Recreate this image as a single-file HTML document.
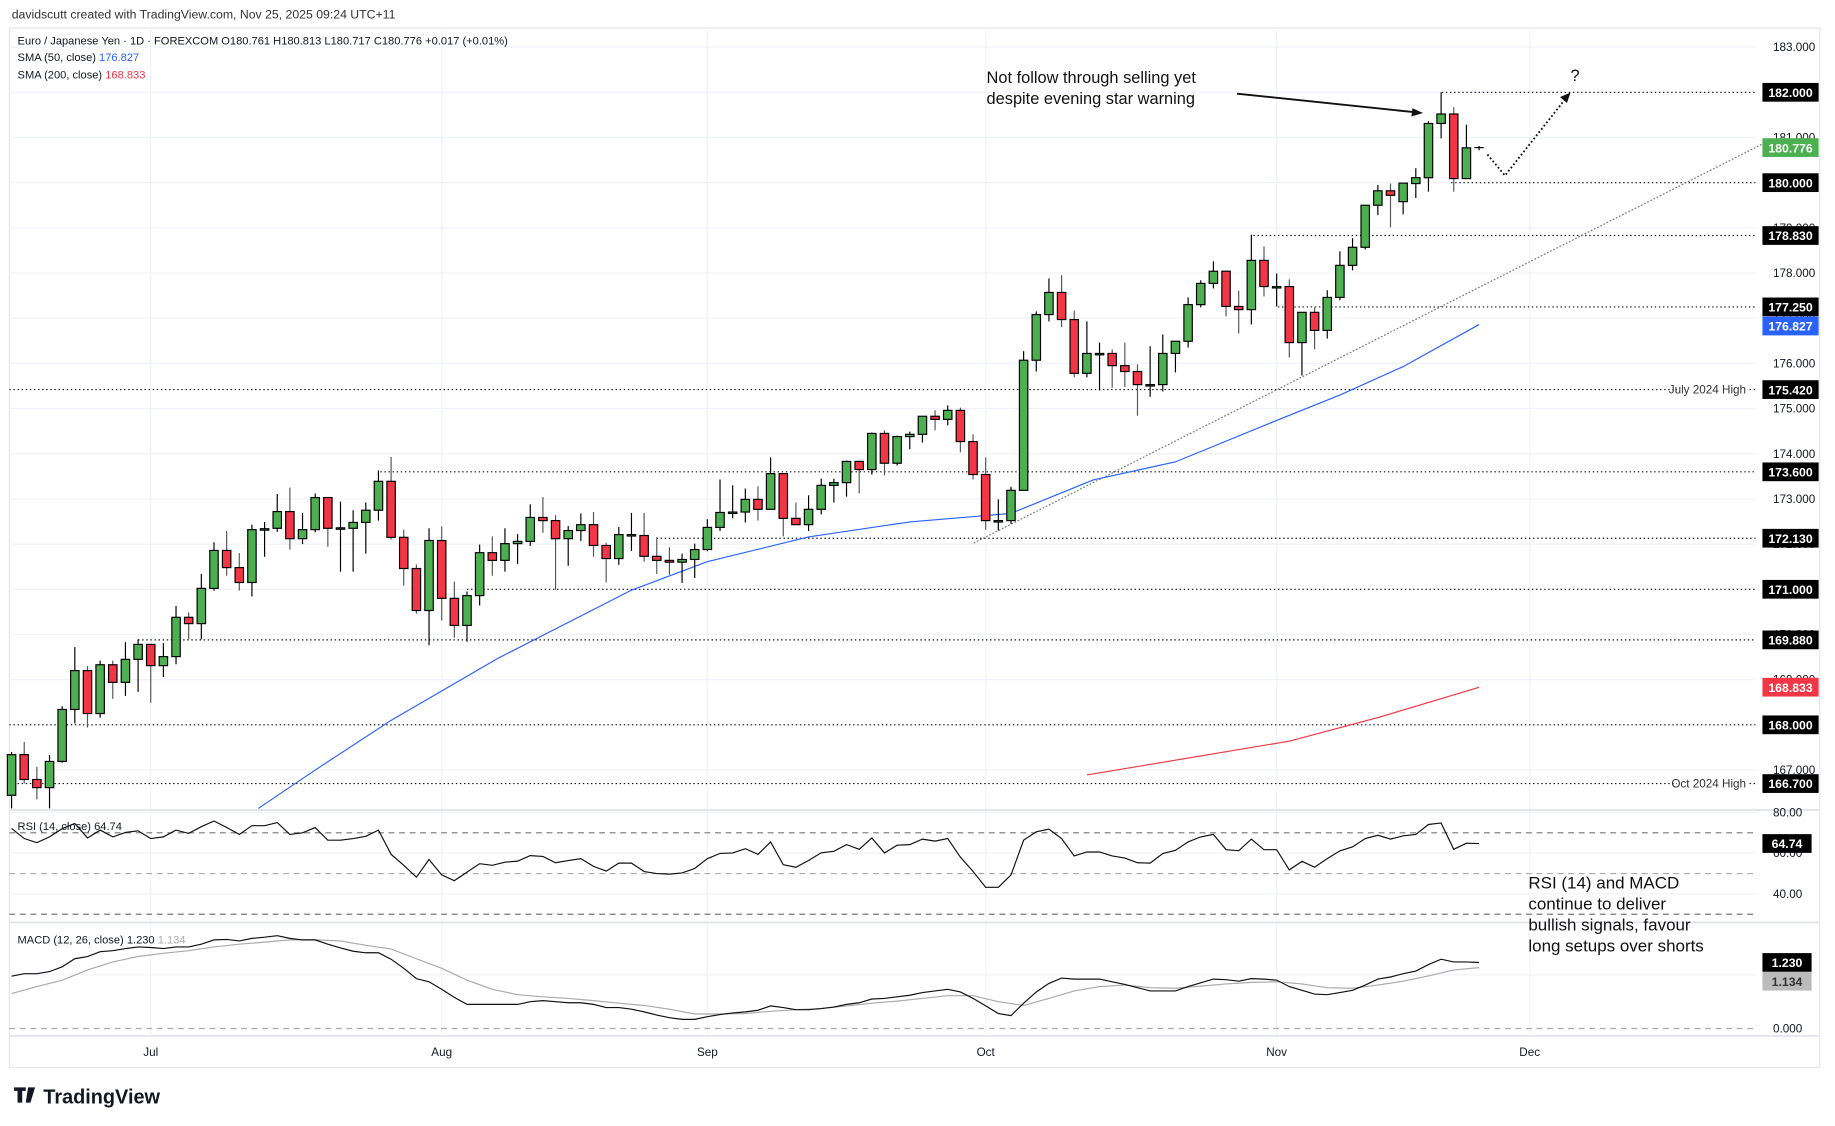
<!DOCTYPE html>
<html><head><meta charset="utf-8"><style>
html,body{margin:0;padding:0;background:#fff;}
svg{display:block;font-family:"Liberation Sans",sans-serif;}
</style></head><body>
<svg id="chart" width="1835" height="1126" viewBox="0 0 1568 962" preserveAspectRatio="none" xmlns="http://www.w3.org/2000/svg">
<rect x="0" y="0" width="1568" height="962" fill="#fff"/>
<text x="10" y="16" font-size="10.5" fill="#333">davidscutt created with TradingView.com, Nov 25, 2025 09:24 UTC+11</text>
<rect x="8" y="24" width="1547" height="888" fill="none" stroke="#e6e6e6"/>
<g id="grid"></g>
<g id="levels"></g>
<g id="smas"></g>
<g id="candles"></g>
<g id="rsi"></g>
<g id="macd"></g>
<g id="axes"></g>
<text x="15" y="38" font-size="9.5" fill="#131722">Euro / Japanese Yen · 1D · FOREXCOM  O180.761  H180.813  L180.717  C180.776  +0.017 (+0.01%)</text>
<text x="15" y="52" font-size="9.5" fill="#131722">SMA (50, close) <tspan fill="#2962ff">176.827</tspan></text>
<text x="15" y="67" font-size="9.5" fill="#131722">SMA (200, close) <tspan fill="#f23645">168.833</tspan></text>
<text x="15" y="709" font-size="9.5" fill="#131722">RSI (14, close)  64.74</text>
<text x="15" y="806" font-size="9.5" fill="#131722">MACD (12, 26, close)  1.230  <tspan fill="#aaa">1.134</tspan></text>
<g>
<text x="843" y="71" font-size="14" fill="#111">Not follow through selling yet</text>
<text x="843" y="89" font-size="14" fill="#111">despite evening star warning</text>
<line x1="1057" y1="80" x2="1210" y2="96" stroke="#111" stroke-width="1.6"/>
<polygon points="1216,96.5 1207,92.5 1206,99.5" fill="#111"/>
</g>
<g>
<polyline points="1271,132 1286,150 1338,84" fill="none" stroke="#111" stroke-width="1.6" stroke-dasharray="1.5 2"/>
<polygon points="1342,79 1333,83 1339,88" fill="#111"/>
<text x="1342" y="69" font-size="14" fill="#111">?</text>
</g>
<g font-size="14.5" fill="#111">
<text x="1306" y="759">RSI (14) and MACD</text>
<text x="1306" y="777">continue to deliver</text>
<text x="1306" y="795">bullish signals, favour</text>
<text x="1306" y="813">long setups over shorts</text>
</g>
<g>
<path d="M12 929h10v3h-3v10h-4v-10h-3z M24 929h6l-4 13h-4z" fill="#131722"/>
<text x="37" y="943" font-size="17" font-weight="bold" fill="#131722">TradingView</text>
</g>
</svg>
<script>
var NS="http://www.w3.org/2000/svg";
// ---- data ----
var opens=[166.44,167.34,166.79,166.61,167.19,168.34,169.2,168.25,169.33,168.94,169.45,169.78,169.31,169.51,170.38,170.24,171.02,171.86,171.48,171.15,172.34,172.35,172.72,172.12,172.32,173.03,172.35,172.35,172.48,172.75,173.39,172.15,171.46,170.53,172.08,170.8,170.2,170.86,171.81,171.64,172.01,172.06,172.59,172.52,172.12,172.3,172.43,171.97,171.68,172.21,172.19,171.73,171.64,171.6,171.66,171.88,172.37,172.7,172.71,172.99,172.77,173.56,172.57,172.43,172.77,173.3,173.36,173.83,173.65,174.45,173.79,174.38,174.43,174.83,174.76,174.96,174.27,173.54,172.52,172.52,173.19,176.07,177.08,177.57,176.97,175.78,176.22,176.22,175.95,175.82,175.53,175.53,176.22,176.49,177.3,177.77,178.04,177.26,177.19,178.28,177.7,177.7,176.46,177.13,176.73,177.46,178.17,178.57,179.5,179.82,179.58,179.98,180.11,181.31,181.52,180.09,180.761];
var highs=[167.4,167.62,167.07,167.33,168.41,169.72,169.3,169.42,169.42,169.83,169.89,169.78,169.81,170.63,170.49,171.34,172.04,172.29,171.8,172.43,172.49,173.11,173.25,172.69,173.12,173.03,172.94,172.75,172.92,173.63,173.93,172.32,171.55,172.35,172.39,171.17,170.95,171.99,172.17,172.35,172.22,172.88,173.04,172.64,172.4,172.68,172.71,172.03,172.38,172.69,172.69,172.15,171.93,171.79,172.01,172.55,173.43,173.3,173.23,173.28,173.92,173.56,172.92,173.08,173.45,173.45,173.85,173.85,174.47,174.52,174.4,174.49,174.83,174.96,175.07,175.02,174.43,173.92,172.99,173.27,176.27,177.15,177.88,177.95,177.17,176.93,176.46,176.31,176.46,175.98,176.38,176.64,176.49,177.46,177.84,178.26,178.04,177.61,178.85,178.59,177.99,177.86,177.13,177.24,177.62,178.48,178.77,179.5,179.95,179.98,179.99,180.32,181.36,182.0,181.67,181.28,180.813];
var lows=[166.15,166.7,166.35,166.15,167.16,168.03,167.94,168.16,168.575,168.64,168.73,168.49,169.06,169.34,169.89,169.89,170.97,171.3,170.97,170.84,171.72,172.27,171.88,172.0,172.26,171.94,171.39,171.39,171.79,172.52,172.1,171.08,170.46,169.76,170.31,169.93,169.84,170.64,171.3,171.39,171.56,171.96,172.25,170.99,171.52,172.07,171.72,171.15,171.54,171.85,171.61,171.34,171.32,171.14,171.25,171.84,172.29,172.57,172.48,172.52,172.77,172.17,172.43,172.29,172.66,172.92,173.05,173.12,173.54,173.52,173.74,174.1,174.25,174.52,174.63,174.03,173.43,172.32,172.3,172.45,173.19,175.82,176.93,176.8,175.69,175.69,175.4,175.46,175.48,174.84,175.26,175.38,175.8,176.35,177.24,177.66,177.04,176.66,176.86,177.48,177.26,176.13,175.73,176.31,176.55,177.4,178.06,178.52,179.28,179.01,179.3,179.66,179.8,180.98,179.8,180.09,180.717];
var closes=[167.34,166.79,166.61,167.19,168.34,169.2,168.25,169.33,168.94,169.45,169.78,169.31,169.51,170.38,170.24,171.02,171.86,171.48,171.15,172.32,172.34,172.72,172.12,172.32,173.03,172.35,172.36,172.48,172.75,173.39,172.15,171.46,170.53,172.08,170.8,170.2,170.86,171.81,171.64,172.01,172.06,172.59,172.52,172.12,172.3,172.43,171.97,171.68,172.21,172.21,171.73,171.64,171.6,171.66,171.88,172.37,172.7,172.71,172.99,172.77,173.56,172.57,172.43,172.77,173.3,173.36,173.83,173.65,174.45,173.79,174.38,174.43,174.83,174.76,174.96,174.27,173.54,172.52,172.52,173.19,176.07,177.08,177.57,176.97,175.78,176.22,176.22,175.95,175.82,175.53,175.53,176.22,176.49,177.3,177.77,178.04,177.26,177.19,178.28,177.7,177.7,176.46,177.13,176.73,177.46,178.17,178.57,179.5,179.82,179.72,179.99,180.11,181.31,181.52,180.09,180.77,180.776];
var sma50Idx=[19.5,24,30,38.5,49,55,63,71,77,79,85.5,92,101,105,110,116];
var sma50Val=[166.15,167.0,168.1,169.48,170.98,171.61,172.16,172.49,172.63,172.68,173.42,173.82,174.85,175.3,175.93,176.86];
var sma200Idx=[85,101,108,116];
var sma200Val=[166.89,167.64,168.16,168.83];
var rsiVals=[72.1,67.2,65.2,68,72,74.6,67.5,71.3,68,70.2,71,67.2,68,71.3,69.7,73,75.8,72.6,69.2,73.5,73.5,75,69.2,70,72.6,66.4,66.4,67.2,68.3,71.3,59.4,54,48.2,56.9,49.3,46.5,50.7,54.8,54,55.6,56.1,58.8,58.4,55.3,56.4,57.3,53.5,51.2,55.1,55.1,51,50,49.7,50.3,52.5,57.3,59.9,60.1,62.2,59.4,65.5,54.3,53.1,56.4,60.2,60.9,64.2,61.9,67.5,60.1,63.9,64.2,66.9,65.9,67.2,58.1,51,43.2,43.2,49.3,66.4,70.5,71.8,67.2,58.6,60.6,60.6,58.6,57.6,55.3,55.1,59.8,61.4,65.5,68,69.2,61.7,61.2,66.9,61.7,61.7,51.8,56,53.1,57.3,61.1,63.1,67.2,68.8,66.9,68.5,69.2,74.1,74.8,61.9,64.9,64.74];
var macdVals=[0.975,1.02,1.02,1.06,1.15,1.3,1.34,1.43,1.45,1.49,1.52,1.51,1.49,1.52,1.52,1.57,1.65,1.66,1.63,1.68,1.7,1.73,1.68,1.65,1.65,1.57,1.5,1.44,1.41,1.41,1.29,1.12,0.93,0.87,0.73,0.58,0.45,0.45,0.45,0.45,0.45,0.5,0.52,0.5,0.48,0.48,0.45,0.39,0.39,0.36,0.31,0.25,0.2,0.17,0.17,0.22,0.26,0.29,0.31,0.34,0.42,0.39,0.35,0.35,0.37,0.4,0.45,0.48,0.55,0.56,0.59,0.62,0.67,0.7,0.73,0.68,0.56,0.42,0.28,0.24,0.47,0.68,0.84,0.94,0.92,0.92,0.92,0.87,0.82,0.76,0.7,0.7,0.7,0.78,0.85,0.92,0.91,0.88,0.93,0.92,0.9,0.78,0.71,0.64,0.63,0.67,0.71,0.81,0.92,0.96,1.02,1.07,1.19,1.29,1.24,1.24,1.23];
var signalIdx=[0,2,4,6,8,10,12,14,16,18,20,22,24,26,28,30,32,34,36,38,40,42,44,46,48,50,52,54,56,58,60,62,64,66,68,70,72,74,76,78,80,82,84,86,88,90,92,94,96,98,100,102,104,106,108,110,112,114,116];
var signalVals=[0.65,0.78,0.9,1.09,1.24,1.34,1.4,1.45,1.52,1.57,1.61,1.65,1.65,1.63,1.55,1.48,1.3,1.12,0.9,0.73,0.63,0.59,0.56,0.52,0.47,0.43,0.36,0.27,0.27,0.28,0.32,0.35,0.37,0.42,0.47,0.51,0.56,0.61,0.61,0.5,0.43,0.56,0.7,0.78,0.81,0.76,0.75,0.79,0.83,0.86,0.87,0.83,0.76,0.75,0.81,0.88,0.98,1.09,1.134];
var priceTicks=[183,181,179,178,177,176,175,174,173,172,171,170,169,167];
var levelVals=[182,180,178.83,177.25,175.42,173.6,172.13,171,169.88,168,166.7];
var levelStart=[1232,1240,1071,1092,8,325,561,399,118,8,8];
var levelNotes=["","","","","July 2024 High","","","","","","Oct 2024 High"];
var monthLabels=["Jul","Aug","Sep","Oct","Nov","Dec"];
var monthIdx=[11,34,55,77,100,120];
// ---- scales ----
function X(i){return 128.8+(i-11)*10.81;}
function Y(p){return 376+(174.302-p)*38.6;}
function RY(v){return 711.5+(70-v)*1.74;}
function MY(v){return 878.7-v*45.86;}
function mk(tag,attrs,parent){var e=document.createElementNS(NS,tag);for(var k in attrs)e.setAttribute(k,attrs[k]);parent.appendChild(e);return e;}
var grid=document.getElementById('grid'),levels=document.getElementById('levels'),smas=document.getElementById('smas'),cg=document.getElementById('candles'),rg=document.getElementById('rsi'),mg=document.getElementById('macd'),ax=document.getElementById('axes');
for(var p=167;p<=183;p++){var gl=mk('line',{x1:8,x2:1500,y1:Y(p),y2:Y(p),stroke:'#f0f3fa'},grid);

}
[80,60,40].forEach(function(v){var l=mk('line',{x1:8,x2:1500,y1:RY(v),y2:RY(v),stroke:'#f0f3fa'},grid);

});
mk('line',{x1:8,x2:1500,y1:MY(1),y2:MY(1),stroke:'#f0f3fa'},grid);
monthIdx.forEach(function(i,k){var l=mk('line',{x1:X(i),x2:X(i),y1:24,y2:885,stroke:'#f0f3fa'},grid);


var t=mk('text',{x:X(i),y:902,'font-size':10,'text-anchor':'middle',fill:'#131722'},ax);t.textContent=monthLabels[k];

});
[692,788,885].forEach(function(y){mk('line',{x1:8,x2:1555,y1:y,y2:y,stroke:'#e0e3eb','stroke-width':1.5},grid);});
[70,50,30].forEach(function(v){mk('line',{x1:8,x2:1500,y1:RY(v),y2:RY(v),stroke:v==50?'#aaa':'#777','stroke-dasharray':'5 4'},grid);});
mk('line',{x1:8,x2:1500,y1:MY(0),y2:MY(0),stroke:'#aaa','stroke-dasharray':'5 4'},grid);
priceTicks.forEach(function(p){var t=mk('text',{x:1515,y:Y(p)+3.5,'font-size':10,fill:'#131722'},ax);t.textContent=p.toFixed(3);

});
levelVals.forEach(function(v,k){var y=Y(v);var note=levelNotes[k];var endX=note?1433:1500;
var l=mk('line',{x1:levelStart[k],x2:endX,y1:y,y2:y,stroke:'#111','stroke-dasharray':'1.2 2.3'},levels);


if(note){mk('line',{x1:1495,x2:1500,y1:y,y2:y,stroke:'#111','stroke-dasharray':'1.2 2.3'},levels);var n=mk('text',{x:1492,y:y+3.5,'font-size':10,'text-anchor':'end',fill:'#333'},levels);n.textContent=note;

}
var b=mk('rect',{x:1506,y:y-8,width:48,height:16,fill:'#000'},ax);


var t=mk('text',{x:1530,y:y+4,'font-size':10.5,'font-weight':'bold','text-anchor':'middle',fill:'#fff'},ax);t.textContent=v.toFixed(3);});
var tl=mk('line',{x1:832,y1:464,x2:1510,y2:121,stroke:'#777','stroke-dasharray':'1.5 1.5'},levels);


function poly(idx,vals,fy,col,w,parent,name){var pts=idx.map(function(i,k){return X(i).toFixed(1)+','+fy(vals[k]).toFixed(1);}).join(' ');var e=mk('polyline',{points:pts,fill:'none',stroke:col,'stroke-width':w},parent);

return e;}
poly(sma50Idx,sma50Val,Y,'#2962ff',1,smas,'sma50-line');
poly(sma200Idx,sma200Val,Y,'#f23645',1,smas,'sma200-line');
for(var i=0;i<opens.length;i++){var o=opens[i],c=closes[i],h=highs[i],lo=lows[i],cx=X(i);
var g=mk('g',{},cg);


if(i==opens.length-1){mk('line',{x1:cx,x2:cx,y1:Y(h),y2:Y(lo),stroke:'#000'},g);mk('line',{x1:cx-4,x2:cx+4,y1:Y(c),y2:Y(c),stroke:'#000'},g);continue;}
mk('line',{x1:cx,x2:cx,y1:Y(h),y2:Y(lo),stroke:c>=o?'#000':'#555','stroke-width':1},g);
var bodyTop=Y(Math.max(o,c)),bodyH=Math.max(Math.abs(Y(o)-Y(c)),1.2);
mk('rect',{x:cx-3.6,y:bodyTop,width:7.2,height:bodyH,fill:c>=o?'#4caf50':'#f23645',stroke:'#000','stroke-width':1},g);}
function lab(y,text,col,w,tc,name){var r=mk('rect',{x:1506,y:y-8,width:w,height:16,fill:col},ax);


var t=mk('text',{x:1506+w/2,y:y+4,'font-size':10.5,'font-weight':'bold','text-anchor':'middle',fill:tc},ax);t.textContent=text;}
lab(Y(closes[closes.length-1]),'180.776','#4caf50',48,'#fff','last-price-label');
lab(Y(176.827),'176.827','#2962ff',48,'#fff','sma50-label');
lab(Y(168.833),'168.833','#f23645',48,'#fff','sma200-label');
var rpts=rsiVals.map(function(v,i){return X(i).toFixed(1)+','+RY(v).toFixed(1);}).join(' ');
var rl=mk('polyline',{points:rpts,fill:'none',stroke:'#111','stroke-width':1},rg);


[[80,'80.00'],[60,'60.00'],[40,'40.00']].forEach(function(a){var t=mk('text',{x:1515,y:RY(a[0])+3.5,'font-size':10,fill:'#131722'},ax);t.textContent=a[1];});
lab(RY(rsiVals[rsiVals.length-1]),'64.74','#000',42,'#fff','rsi-value-label');
poly(signalIdx,signalVals,MY,'#aaa',1,mg,'macd-signal-line');
var mpts=macdVals.map(function(v,i){return X(i).toFixed(1)+','+MY(v).toFixed(1);}).join(' ');
var ml=mk('polyline',{points:mpts,fill:'none',stroke:'#111','stroke-width':1},mg);


var zt=mk('text',{x:1515,y:MY(0)+3.5,'font-size':10,fill:'#131722'},ax);zt.textContent='0.000';
var macdLabY=MY(macdVals[macdVals.length-1]);
lab(macdLabY,'1.230','#000',42,'#fff','macd-value-label');
lab(macdLabY+16,'1.134','#bbb',42,'#333','signal-value-label');
</script>
</body></html>
